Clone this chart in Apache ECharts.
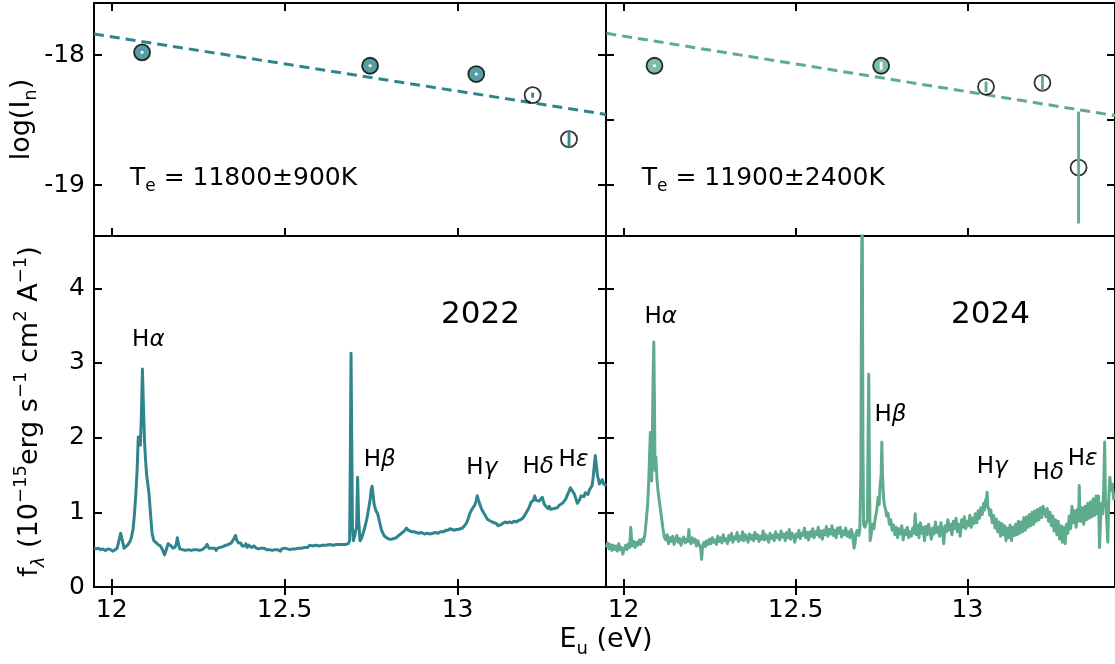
<!DOCTYPE html>
<html><head><meta charset="utf-8">
<script src="https://cdn.jsdelivr.net/npm/echarts@6/dist/echarts.min.js"></script>
<style>html,body{margin:0;padding:0;background:#fff}#c{width:1115px;height:664px}</style>
</head><body><div id="c"></div>
<script>
// ---------------- data ----------------
const lineNames = ['α','β','γ','δ','ε'];
const energy2022 = [12.088, 12.747, 13.054, 13.217, 13.322];
const logI2022   = [-17.979, -18.082, -18.146, -18.308, -18.646];
const err2022    = [0.01, 0.01, 0.01, 0.02, 0.06];
const filled2022 = [1, 1, 1, 0, 0];
const fit2022    = [[11.949, -17.838], [13.429, -18.456]];
const te2022     = ['T', 'e', ' = 11800±900K'];

const energy2024 = [12.090, 12.749, 13.054, 13.218, 13.323];
const logI2024   = [-18.082, -18.082, -18.244, -18.213, -18.864];
const err2024    = [0.01, 0.03, 0.04, 0.06, 0.43];
const filled2024 = [1, 1, 0, 0, 0];
const fit2024    = [[11.95, -17.833], [13.429, -18.465]];
const te2024     = ['T', 'e', ' = 11900±2400K'];

const xTicks = [12, 12.5, 13];
const yTicksTopLeft = [-19, -18];
const yTicksTopRight = [-19, -18.5, -18];
const yTicksBottom = [0, 1, 2, 3, 4];

const hLabelPos2022 = [[12.106, 3.31], [12.775, 1.70], [13.070, 1.59], [13.233, 1.60], [13.335, 1.70]];
const hLabelPos2024 = [[12.108, 3.61], [12.776, 2.30], [13.072, 1.61], [13.235, 1.52], [13.335, 1.72]];
const yearPos2022 = [13.066, 3.64];
const yearPos2024 = [13.067, 3.64];
const tePos = [12.053, -18.945];

const spec2022 = [
[11.949,0.52],[11.955,0.51],[11.962,0.52],[11.968,0.50],[11.975,0.51],[11.982,0.49],[11.990,0.51],[11.997,0.50],[12.004,0.48],[12.010,0.50],
[12.016,0.52],[12.021,0.62],[12.026,0.72],[12.031,0.62],[12.036,0.52],[12.040,0.50],[12.046,0.56],[12.052,0.60],[12.057,0.66],[12.062,0.78],
[12.066,0.98],[12.070,1.25],[12.074,1.60],[12.077,2.01],[12.080,1.98],[12.083,1.90],[12.086,2.30],[12.089,2.92],[12.092,2.40],[12.095,1.96],
[12.098,1.70],[12.101,1.51],[12.104,1.40],[12.108,1.25],[12.112,1.00],[12.117,0.71],[12.122,0.62],[12.127,0.60],[12.134,0.57],[12.141,0.55],
[12.147,0.50],[12.153,0.43],[12.158,0.50],[12.163,0.58],[12.167,0.60],[12.172,0.55],[12.177,0.52],[12.183,0.53],[12.187,0.58],[12.190,0.66],
[12.193,0.58],[12.197,0.51],[12.201,0.52],[12.205,0.50],[12.209,0.52],[12.213,0.49],[12.218,0.51],[12.222,0.50],[12.226,0.52],[12.230,0.49],
[12.234,0.51],[12.238,0.50],[12.242,0.52],[12.246,0.50],[12.250,0.52],[12.254,0.49],[12.258,0.51],[12.262,0.50],[12.266,0.52],[12.270,0.53],
[12.276,0.57],[12.281,0.52],[12.286,0.50],[12.290,0.52],[12.294,0.50],[12.298,0.52],[12.302,0.49],[12.306,0.52],[12.310,0.51],[12.314,0.53],
[12.318,0.52],[12.322,0.54],[12.326,0.53],[12.330,0.56],[12.334,0.54],[12.338,0.57],[12.342,0.57],[12.346,0.59],[12.350,0.60],[12.355,0.66],
[12.358,0.69],[12.362,0.62],[12.367,0.59],[12.370,0.57],[12.373,0.59],[12.377,0.55],[12.380,0.57],[12.384,0.55],[12.388,0.58],[12.392,0.53],
[12.396,0.56],[12.400,0.54],[12.405,0.53],[12.411,0.55],[12.418,0.52],[12.422,0.53],[12.425,0.51],[12.432,0.52],[12.436,0.50],[12.440,0.52],
[12.444,0.51],[12.448,0.50],[12.452,0.52],[12.456,0.50],[12.460,0.51],[12.464,0.49],[12.468,0.51],[12.472,0.50],[12.476,0.52],[12.480,0.50],
[12.484,0.51],[12.488,0.48],[12.492,0.51],[12.496,0.50],[12.500,0.52],[12.504,0.50],[12.508,0.51],[12.512,0.52],[12.516,0.50],[12.520,0.52],
[12.524,0.51],[12.528,0.53],[12.532,0.51],[12.536,0.53],[12.540,0.52],[12.545,0.53],[12.549,0.52],[12.554,0.54],[12.558,0.53],[12.563,0.54],
[12.567,0.53],[12.572,0.56],[12.576,0.54],[12.580,0.55],[12.585,0.54],[12.590,0.56],[12.595,0.54],[12.600,0.55],[12.605,0.54],[12.610,0.56],
[12.615,0.55],[12.620,0.56],[12.625,0.54],[12.630,0.57],[12.635,0.55],[12.640,0.56],[12.645,0.55],[12.650,0.57],[12.655,0.56],[12.660,0.57],
[12.665,0.55],[12.670,0.57],[12.678,0.57],[12.684,0.58],[12.688,0.62],[12.690,1.80],[12.692,3.13],[12.694,2.00],[12.696,0.80],
[12.699,0.62],[12.703,0.63],[12.708,0.80],[12.711,1.47],[12.714,0.90],[12.718,0.62],[12.722,0.65],[12.727,0.72],[12.732,0.80],[12.738,0.92],
[12.743,1.05],[12.747,1.16],[12.750,1.30],[12.753,1.35],[12.756,1.22],[12.759,1.10],[12.764,1.02],[12.769,0.98],[12.774,0.88],[12.780,0.76],
[12.787,0.69],[12.795,0.66],[12.802,0.64],[12.809,0.64],[12.816,0.65],[12.823,0.66],[12.830,0.69],[12.838,0.72],[12.846,0.75],[12.852,0.79],
[12.857,0.76],[12.862,0.76],[12.867,0.74],[12.874,0.74],[12.881,0.73],[12.888,0.72],[12.896,0.73],[12.904,0.71],[12.912,0.72],[12.920,0.71],
[12.928,0.72],[12.936,0.73],[12.944,0.72],[12.950,0.74],[12.954,0.75],[12.960,0.74],[12.966,0.76],[12.972,0.76],[12.978,0.78],[12.984,0.77],
[12.990,0.76],[12.996,0.77],[13.002,0.77],[13.008,0.78],[13.014,0.79],[13.020,0.82],[13.026,0.86],[13.031,0.92],[13.036,0.99],[13.040,1.03],
[13.045,1.05],[13.050,1.10],[13.054,1.16],[13.057,1.22],[13.060,1.17],[13.064,1.11],[13.068,1.06],[13.072,1.02],[13.077,0.98],[13.082,0.94],
[13.088,0.90],[13.093,0.89],[13.100,0.87],[13.106,0.86],[13.112,0.85],[13.117,0.82],[13.122,0.80],[13.127,0.84],[13.132,0.85],[13.137,0.87],
[13.143,0.86],[13.150,0.87],[13.157,0.86],[13.163,0.88],[13.170,0.87],[13.176,0.89],[13.182,0.90],[13.188,0.92],[13.194,0.96],[13.199,1.00],
[13.204,1.04],[13.208,1.08],[13.212,1.13],[13.216,1.11],[13.220,1.17],[13.223,1.22],[13.227,1.16],[13.231,1.18],[13.235,1.15],[13.240,1.17],
[13.245,1.20],[13.249,1.13],[13.253,1.09],[13.257,1.07],[13.261,1.05],[13.265,1.08],[13.269,1.04],[13.273,1.02],[13.278,1.05],[13.283,1.07],
[13.288,1.06],[13.293,1.09],[13.298,1.10],[13.303,1.12],[13.308,1.14],[13.313,1.18],[13.318,1.24],[13.322,1.28],[13.326,1.33],[13.330,1.30],
[13.334,1.28],[13.338,1.24],[13.342,1.18],[13.346,1.12],[13.349,1.11],[13.353,1.17],[13.357,1.22],[13.361,1.24],[13.365,1.21],[13.369,1.26],
[13.373,1.27],[13.377,1.24],[13.381,1.30],[13.385,1.29],[13.389,1.36],[13.392,1.47],[13.395,1.62],[13.398,1.76],[13.401,1.64],[13.404,1.50],
[13.407,1.44],[13.410,1.38],[13.414,1.40],[13.418,1.44],[13.422,1.38],[13.426,1.37],[13.430,1.36]
];

const spec2024 = [
[11.950,0.53],[11.954,0.59],[11.958,0.51],[11.962,0.57],[11.966,0.49],[11.970,0.56],[11.974,0.50],[11.978,0.55],[11.982,0.48],[11.986,0.58],
[11.990,0.50],[11.994,0.53],[11.998,0.44],[12.002,0.51],[12.006,0.56],[12.010,0.50],[12.014,0.58],[12.018,0.53],[12.021,0.80],[12.023,0.66],
[12.026,0.55],[12.030,0.61],[12.034,0.53],[12.038,0.60],[12.042,0.56],[12.046,0.63],[12.050,0.57],[12.054,0.64],[12.058,0.61],
[12.062,0.70],[12.066,0.89],[12.070,1.10],[12.073,1.38],[12.076,1.80],[12.078,2.07],[12.080,1.70],[12.082,1.42],[12.084,2.10],[12.086,2.80],
[12.088,3.28],[12.090,2.40],[12.0915,1.56],[12.094,1.74],[12.097,1.45],[12.100,1.30],[12.104,1.15],[12.109,0.98],[12.114,0.80],[12.119,0.66],
[12.123,0.63],[12.127,0.70],[12.131,0.58],[12.135,0.66],[12.139,0.61],[12.143,0.68],[12.147,0.57],[12.151,0.64],[12.155,0.69],[12.159,0.60],
[12.163,0.65],[12.167,0.56],[12.171,0.63],[12.175,0.67],[12.179,0.59],[12.183,0.64],[12.187,0.61],[12.190,0.77],[12.192,0.63],[12.196,0.58],
[12.200,0.66],[12.204,0.60],[12.208,0.64],[12.212,0.55],[12.216,0.62],[12.220,0.57],[12.224,0.52],[12.227,0.37],[12.230,0.55],[12.234,0.60],
[12.238,0.54],[12.242,0.62],[12.246,0.57],[12.250,0.64],
[12.254,0.58],[12.258,0.66],[12.262,0.60],[12.266,0.63],[12.270,0.57],[12.274,0.68],[12.278,0.61],[12.282,0.66],[12.286,0.59],[12.290,0.70],
[12.294,0.62],[12.298,0.65],[12.302,0.58],[12.306,0.69],[12.310,0.63],[12.314,0.72],[12.318,0.60],[12.322,0.67],[12.326,0.64],[12.330,0.73],
[12.334,0.61],[12.338,0.68],[12.342,0.63],[12.346,0.74],[12.350,0.62],[12.354,0.70],[12.358,0.66],[12.362,0.60],[12.366,0.71],[12.370,0.64],
[12.374,0.69],[12.378,0.62],[12.382,0.73],[12.386,0.65],[12.390,0.70],[12.394,0.61],[12.398,0.68],[12.402,0.64],[12.406,0.75],[12.410,0.63],
[12.414,0.70],[12.418,0.66],[12.422,0.60],[12.426,0.72],[12.430,0.65],[12.434,0.69],[12.438,0.62],[12.442,0.74],[12.446,0.66],[12.450,0.70],
[12.454,0.63],[12.458,0.75],[12.462,0.67],[12.466,0.71],[12.470,0.62],[12.474,0.73],[12.478,0.66],[12.482,0.77],[12.486,0.64],[12.490,0.72],
[12.494,0.68],[12.498,0.60],[12.502,0.71],[12.506,0.67],[12.510,0.76],[12.514,0.65],[12.518,0.72],[12.522,0.69],[12.526,0.79],[12.530,0.66],
[12.534,0.73],[12.538,0.63],[12.542,0.74],[12.546,0.68],[12.550,0.78],[12.554,0.66],[12.558,0.74],[12.562,0.70],[12.566,0.80],[12.570,0.67],
[12.574,0.75],[12.578,0.64],[12.582,0.76],[12.586,0.70],[12.590,0.81],[12.594,0.68],[12.598,0.77],[12.602,0.71],[12.606,0.82],[12.610,0.69],
[12.614,0.76],[12.618,0.66],[12.622,0.79],[12.626,0.72],[12.630,0.80],[12.634,0.67],[12.638,0.75],[12.642,0.70],[12.646,0.79],[12.650,0.68],
[12.654,0.74],[12.658,0.66],[12.662,0.77],[12.666,0.70],[12.670,0.52],[12.673,0.58],[12.676,0.72],[12.680,0.76],[12.684,0.69],[12.687,0.76],
[12.690,1.50],[12.692,4.20],[12.694,5.20],[12.696,2.00],[12.698,0.84],[12.702,0.80],[12.706,0.86],[12.709,0.90],[12.711,2.00],[12.713,2.85],
[12.715,1.50],[12.717,0.62],[12.720,0.70],[12.724,0.84],[12.728,0.78],[12.732,0.92],[12.736,1.02],[12.740,1.20],[12.743,1.10],[12.746,1.35],
[12.749,1.50],[12.751,1.94],[12.753,1.50],[12.756,1.20],[12.759,1.08],[12.762,1.04],[12.765,0.95],[12.769,0.99],[12.773,0.84],[12.777,0.90],
[12.781,0.76],[12.785,0.83],[12.789,0.70],[12.793,0.80],[12.797,0.66],[12.801,0.78],[12.805,0.71],[12.809,0.82],[12.813,0.63],[12.817,0.76],
[12.821,0.70],[12.825,0.80],[12.829,0.66],[12.833,0.74],[12.837,0.68],[12.841,0.79],[12.845,0.72],[12.848,0.98],[12.851,0.70],[12.855,0.83],
[12.859,0.66],[12.863,0.86],[12.867,0.72],[12.871,0.80],[12.875,0.62],[12.879,0.81],[12.883,0.70],[12.887,0.84],[12.891,0.74],[12.895,0.64],
[12.899,0.79],[12.903,0.71],[12.907,0.87],[12.911,0.73],[12.915,0.80],[12.919,0.68],[12.923,0.86],[12.927,0.76],[12.931,0.58],[12.935,0.82],
[12.939,0.74],[12.943,0.90],[12.947,0.76],[12.951,0.84],[12.955,0.70],[12.959,0.88],[12.963,0.78],[12.967,0.92],[12.971,0.74],[12.975,0.84],
[12.979,0.68],[12.983,0.90],[12.987,0.80],[12.991,0.94],[12.995,0.78],[12.999,0.88],[13.003,0.82],[13.007,0.96],[13.011,0.80],[13.015,0.92],
[13.019,0.85],[13.023,0.98],[13.027,0.86],[13.031,1.02],[13.035,0.92],[13.039,1.06],[13.043,0.97],[13.047,1.12],[13.050,1.03],[13.053,1.17],
[13.055,1.10],[13.057,1.27],[13.059,1.08],[13.062,1.05],[13.065,0.96],[13.068,1.03],[13.072,0.86],[13.076,0.96],[13.080,0.79],[13.084,0.91],
[13.088,0.74],[13.092,0.87],[13.096,0.68],[13.100,0.85],[13.104,0.70],[13.108,0.82],[13.112,0.62],[13.116,0.79],[13.120,0.66],[13.124,0.83],
[13.128,0.62],[13.132,0.80],[13.136,0.69],[13.140,0.84],[13.144,0.70],[13.148,0.88],[13.152,0.72],[13.156,0.87],[13.160,0.74],[13.164,0.93],
[13.168,0.76],[13.172,0.94],[13.176,0.80],[13.180,0.97],[13.184,0.82],[13.188,1.00],[13.192,0.84],[13.196,1.02],[13.200,0.88],[13.204,1.04],
[13.208,0.90],[13.212,1.06],[13.216,0.93],[13.220,1.08],[13.224,1.10],[13.228,0.94],[13.232,1.05],[13.236,0.88],[13.240,1.00],[13.244,0.82],
[13.248,0.95],[13.252,0.75],[13.256,0.90],[13.260,0.70],[13.264,0.88],[13.268,0.64],[13.272,0.82],[13.276,0.60],[13.280,0.80],[13.284,0.58],
[13.288,0.84],[13.292,0.72],[13.296,0.95],[13.300,0.78],[13.304,1.08],[13.308,0.86],[13.312,1.02],[13.316,0.80],[13.320,1.04],[13.323,0.88],
[13.325,1.36],[13.327,0.98],[13.330,0.88],[13.334,1.06],[13.338,0.84],[13.342,1.08],[13.346,0.90],[13.350,1.12],[13.354,0.92],[13.358,1.14],
[13.362,0.94],[13.366,1.18],[13.370,0.96],[13.374,1.22],[13.378,0.98],[13.381,1.22],[13.384,0.53],[13.387,0.90],[13.390,1.12],[13.393,0.98],
[13.396,1.30],[13.399,1.94],[13.401,1.20],[13.404,0.98],[13.408,0.60],[13.411,1.20],[13.414,1.47],[13.417,1.30],[13.421,1.38],[13.425,1.18],
[13.430,1.25]
];

// ---------------- styling ----------------
const C22 = '#2f858d', C24 = '#5fab8e';
const FONT = 'DejaVu Sans';
const TICK_FS = 25;
const X_MIN = 11.949, X_MAX = 13.429;
const Y_TOP = [-19.39, -17.6], Y_BOT = [0, 4.7];

const grids = [
  {left: 94, top: 3, width: 512, height: 233},
  {left: 606, top: 3, width: 512, height: 233},
  {left: 94, top: 236, width: 512, height: 351},
  {left: 606, top: 236, width: 512, height: 351}
].map(g => Object.assign(g, {show: true, borderColor: '#000', borderWidth: 2, backgroundColor: 'transparent', containLabel: false}));

const tick = vals => ({show: true, inside: true, length: 8, lineStyle: {color: '#000', width: 2}, customValues: vals});
const lab = (show, vals, fmt, margin) => ({show: show, customValues: vals, formatter: fmt, fontSize: TICK_FS, color: '#000', fontFamily: FONT, margin: margin});

const xAxes = [], yAxes = [];
for (let g = 0; g < 4; g++) {
  const bottomLabels = g >= 2;
  xAxes.push({type: 'value', gridIndex: g, position: 'bottom', min: X_MIN, max: X_MAX,
    axisLine: {show: false}, splitLine: {show: false}, axisTick: tick(xTicks),
    axisLabel: lab(bottomLabels, xTicks, v => String(v), 11)});
  xAxes.push({type: 'value', gridIndex: g, position: 'top', min: X_MIN, max: X_MAX,
    axisLine: {show: false}, splitLine: {show: false}, axisTick: tick(xTicks), axisLabel: {show: false}});
  const isTop = g < 2;
  const yr = isTop ? Y_TOP : Y_BOT;
  const yt = isTop ? (g === 0 ? yTicksTopLeft : yTicksTopRight) : yTicksBottom;
  const leftLabels = (g === 0 || g === 2);
  const yl = {type: 'value', gridIndex: g, position: 'left', min: yr[0], max: yr[1],
    axisLine: {show: false}, splitLine: {show: false}, axisTick: tick(yt),
    axisLabel: lab(leftLabels, yt, v => String(Math.round(v)), 9)};
  const nameRich = {
    a: {fontSize: 27, fontFamily: FONT, color: '#000', lineHeight: 36},
    s: {fontSize: 18, fontFamily: FONT, color: '#000', lineHeight: 16, verticalAlign: 'bottom'},
    si: {fontSize: 18, fontFamily: FONT, fontStyle: 'italic', color: '#000', lineHeight: 16, verticalAlign: 'bottom'},
    p: {fontSize: 18, fontFamily: FONT, color: '#000', lineHeight: 16, verticalAlign: 'top'}
  };
  if (g === 0) {
    yl.name = '{a|log(I}{s|n}{a|)}';
    yl.nameLocation = 'middle'; yl.nameRotate = 90; yl.nameGap = 46;
    yl.nameTextStyle = {color: '#000', fontFamily: FONT, fontSize: 27, rich: nameRich};
  }
  if (g === 2) {
    yl.name = '{a|f}{si|λ}{a| (10}{p|−15}{a|erg s}{p|−1}{a| cm}{p|2}{a| A}{p|−1}{a|)}';
    yl.nameLocation = 'middle'; yl.nameRotate = 90; yl.nameGap = 46;
    yl.nameTextStyle = {color: '#000', fontFamily: FONT, fontSize: 27, rich: nameRich};
  }
  yAxes.push(yl);
  yAxes.push({type: 'value', gridIndex: g, position: 'right', min: yr[0], max: yr[1],
    axisLine: {show: false}, splitLine: {show: false}, axisTick: tick(yt), axisLabel: {show: false}});
}

const series = [];
function textSeries(g, data, makeStyle) {
  series.push({type: 'custom', xAxisIndex: 2 * g, yAxisIndex: 2 * g, z: 6, silent: true, animation: false,
    data: data.map((p, i) => [p[0], p[1], i]),
    renderItem: function (params, api) {
      const c = api.coord([api.value(0), api.value(1)]);
      return {type: 'text', x: c[0], y: c[1], style: makeStyle(api.value(2))};
    }});
}
function topPanel(g, E, L, Er, F, fit, color, te) {
  const xi = 2 * g, yi = 2 * g;
  series.push({type: 'line', xAxisIndex: xi, yAxisIndex: yi, data: fit, symbol: 'none', z: 2,
    lineStyle: {color: color, width: 3, type: [10, 6]}, silent: true, animation: false});
  series.push({type: 'scatter', xAxisIndex: xi, yAxisIndex: yi, z: 3, symbolSize: 16, animation: false,
    data: E.map((e, i) => ({value: [e, L[i]], itemStyle: {color: F[i] ? color : 'rgba(255,255,255,0)', borderColor: '#000', borderWidth: 1.8}}))});
  series.push({type: 'custom', xAxisIndex: xi, yAxisIndex: yi, z: 4, animation: false,
    data: E.map((e, i) => [e, L[i], Er[i], F[i]]),
    renderItem: function (params, api) {
      const x = api.value(0), y = api.value(1), er = api.value(2), f = api.value(3);
      const p1 = api.coord([x, y + er]), p2 = api.coord([x, y - er]);
      return {type: 'line', shape: {x1: p1[0], y1: p1[1], x2: p2[0], y2: p2[1]},
        style: {stroke: f ? '#ffffff' : color, lineWidth: 2.8}};
    }});
  textSeries(g, [tePos], () => ({
    text: '{a|' + te[0] + '}{s|' + te[1] + '}{a|' + te[2] + '}', align: 'left', verticalAlign: 'middle', fill: '#000',
    rich: {a: {fontSize: 25, fontFamily: FONT, fill: '#000', lineHeight: 34},
           s: {fontSize: 17, fontFamily: FONT, fill: '#000', lineHeight: 16, verticalAlign: 'bottom'}}}));
}
function bottomPanel(g, spec, color, hPos, yearPos, year) {
  const xi = 2 * g, yi = 2 * g;
  series.push({type: 'line', xAxisIndex: xi, yAxisIndex: yi, data: spec, symbol: 'none', showSymbol: false, z: 2,
    clip: true, lineStyle: {color: color, width: 3, join: 'round'}, animation: false, silent: true});
  textSeries(g, hPos, i => ({
    text: '{h|H}{g|' + lineNames[i] + '}', align: 'center', verticalAlign: 'middle', fill: '#000',
    rich: {h: {fontSize: 23, fontFamily: FONT, fill: '#000'}, g: {fontSize: 23, fontFamily: FONT, fontStyle: 'italic', fill: '#000'}}}));
  textSeries(g, [yearPos], () => ({text: year, align: 'center', verticalAlign: 'middle', fill: '#000',
    fontSize: 31, fontFamily: FONT}));
}
topPanel(0, energy2022, logI2022, err2022, filled2022, fit2022, C22, te2022);
topPanel(1, energy2024, logI2024, err2024, filled2024, fit2024, C24, te2024);
bottomPanel(2, spec2022, C22, hLabelPos2022, yearPos2022, '2022');
bottomPanel(3, spec2024, C24, hLabelPos2024, yearPos2024, '2024');

const chart = echarts.init(document.getElementById('c'), null, {renderer: 'canvas', width: 1115, height: 664});
chart.setOption({
  animation: false,
  backgroundColor: '#fff',
  grid: grids,
  xAxis: xAxes,
  yAxis: yAxes,
  series: series,
  graphic: [{type: 'text', x: 606, y: 640, z: 10,
    style: {text: '{a|E}{s|u}{a| (eV)}', align: 'center', verticalAlign: 'middle', fill: '#000',
      rich: {a: {fontSize: 27, fontFamily: FONT, fill: '#000', lineHeight: 36}, s: {fontSize: 18, fontFamily: FONT, fill: '#000', lineHeight: 16, verticalAlign: 'bottom'}}}}]
});
</script></body></html>
